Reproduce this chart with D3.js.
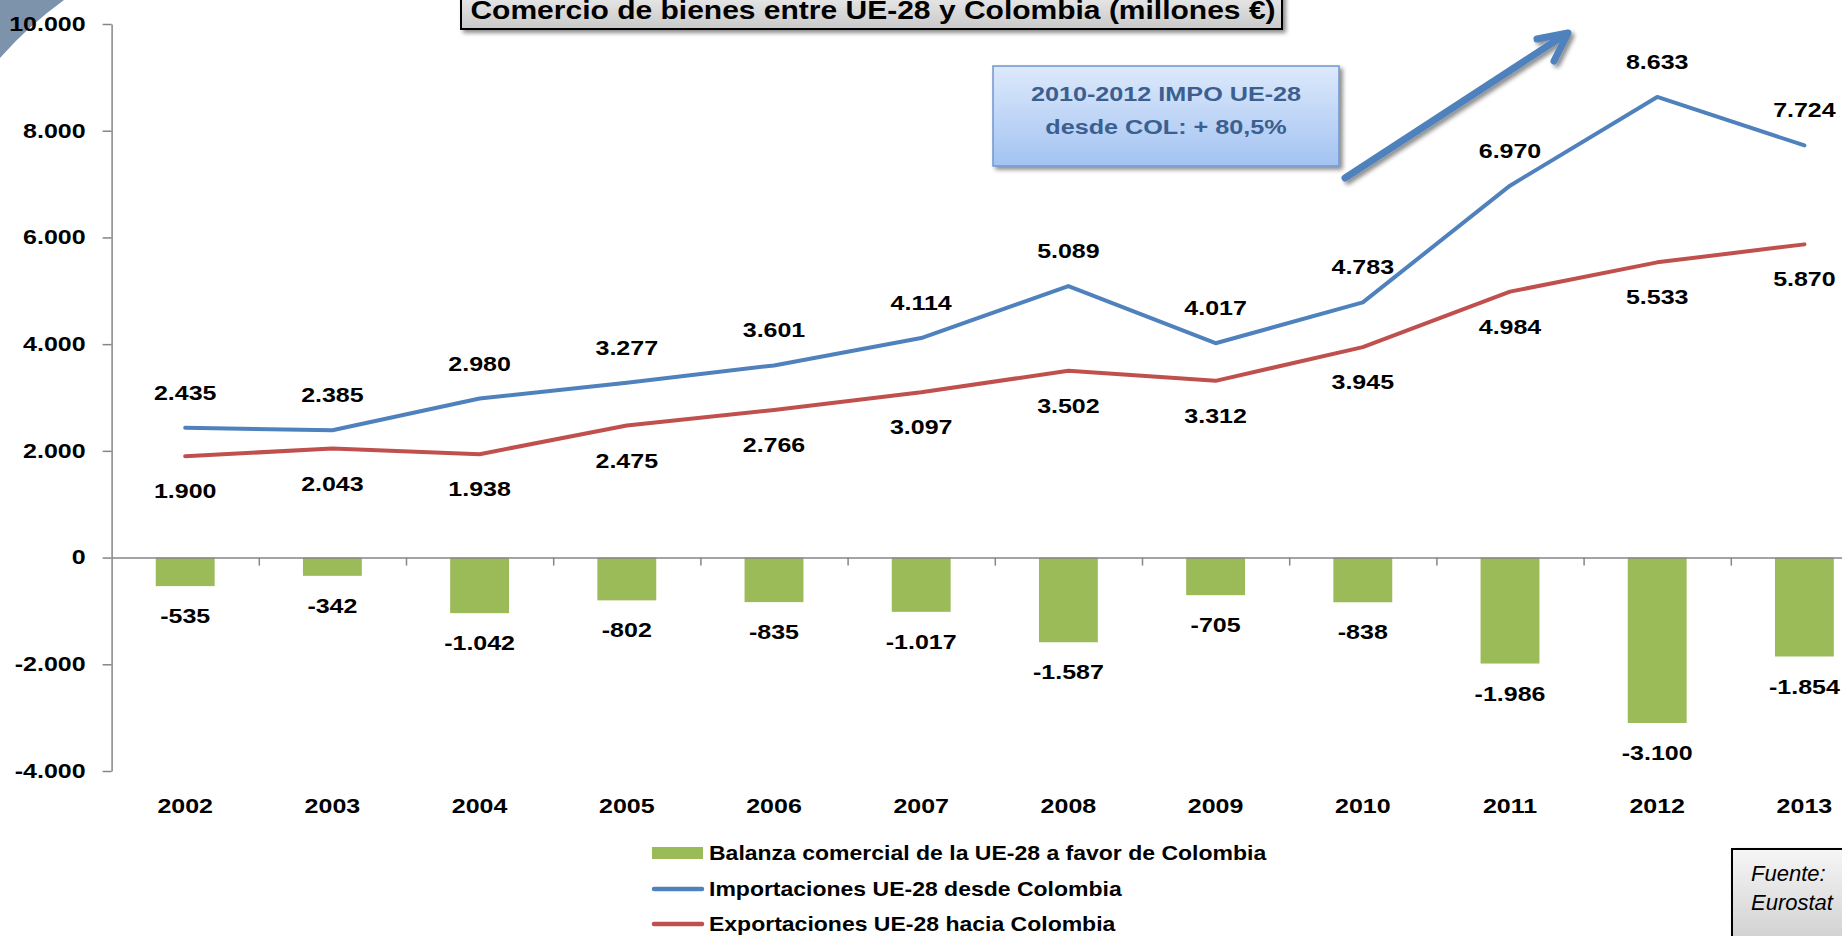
<!DOCTYPE html>
<html>
  <head>
    <meta charset="utf-8"/>
    <style>
body {
  margin: 0;
  background: #fff;
}
svg {
  display: block;
  font-family: "Liberation Sans", Arial, sans-serif;
}
.axis path, .axis line {
  stroke: #868686;
  stroke-width: 1.5;
}
.lbl {
  font-size: 20px;
  font-weight: bold;
  fill: #000;
}
    </style>
  </head>
  <body>
    <svg id="chart" width="1842" height="936"></svg>
    <script src="https://cdnjs.cloudflare.com/ajax/libs/d3/7.8.5/d3.min.js"></script>
    <script>
const years = ["2002","2003","2004","2005","2006","2007","2008","2009","2010","2011","2012","2013"];
const imports = [2435, 2385, 2980, 3277, 3601, 4114, 5089, 4017, 4783, 6970, 8633, 7724];
const exports = [1900, 2043, 1938, 2475, 2766, 3097, 3502, 3312, 3945, 4984, 5533, 5870];
const balance = [-535, -342, -1042, -802, -835, -1017, -1587, -705, -838, -1986, -3100, -1854];
const yTicks = [-4000, -2000, 0, 2000, 4000, 6000, 8000, 10000];
const legendNames = [
  "Balanza comercial de la UE-28 a favor de Colombia",
  "Importaciones UE-28 desde Colombia",
  "Exportaciones UE-28 hacia Colombia"
];

const green = "#9bbb59", blue = "#4f81bd", red = "#c0504d";
const SX = 1.25; // the original picture is stretched sideways

const es = d3.formatLocale({ decimal: ",", thousands: ".", grouping: [3], currency: ["", "€"], minus: "-" });
const fmt = es.format(",d");

const svg = d3.select("#chart");
const plotLeft = 111.6, plotRight = 1878, plotTop = 24, plotBottom = 771;

const x = d3.scaleBand()
    .domain(years)
    .range([plotLeft, plotRight])
    .paddingInner(0.6)
    .paddingOuter(0.3);
const xc = (i) => x(years[i]) + x.bandwidth() / 2;
const xi = d3.scaleLinear().domain([0, years.length]).range([plotLeft, plotRight]);
const y = d3.scaleLinear().domain([-4000, 10000]).range([plotBottom, plotTop]);

const defs = svg.append("defs");
const shadow = defs.append("filter").attr("id", "shadow")
    .attr("x", "-10%").attr("y", "-10%").attr("width", "130%").attr("height", "150%");
shadow.append("feDropShadow")
    .attr("dx", 3).attr("dy", 3).attr("stdDeviation", 2)
    .attr("flood-color", "#000").attr("flood-opacity", 0.45);

function grad(id, c1, c2) {
  let g = defs.append("linearGradient").attr("id", id)
      .attr("x1", 0).attr("y1", 0).attr("x2", 0).attr("y2", 1);
  g.append("stop").attr("offset", "0%").attr("stop-color", c1);
  g.append("stop").attr("offset", "100%").attr("stop-color", c2);
}
grad("grayfill", "#f6f6f6", "#c9c9c9");
grad("bluefill", "#dde9fb", "#a3c3f2");

// corner decoration from the slide
svg.append("path")
    .attr("d", "M0,0 L64,0 Q28,26 0,58 Z")
    .attr("fill", "#7d92ab");

// y axis
const yAxis = svg.append("g")
    .attr("class", "axis")
    .attr("transform", `translate(${plotLeft},0)`)
    .call(d3.axisLeft(y).tickValues(yTicks).tickSize(9).tickSizeOuter(0).tickFormat(fmt));
yAxis.selectAll("text")
    .attr("class", "lbl")
    .attr("x", null)
    .attr("transform", `translate(-26,0) scale(${SX},1)`);

// bars
svg.append("g")
  .selectAll("rect")
  .data(balance)
  .join("rect")
    .attr("x", (d, i) => x(years[i]))
    .attr("width", x.bandwidth())
    .attr("y", y(0))
    .attr("height", d => y(d) - y(0))
    .attr("fill", green);

// zero line with category ticks
svg.append("g")
    .attr("class", "axis")
    .attr("transform", `translate(0,${y(0)})`)
    .call(d3.axisBottom(xi).tickValues(d3.range(1, years.length + 1)).tickSize(8).tickSizeOuter(0).tickFormat(""));

// category labels at the bottom
const xAxis = svg.append("g")
    .attr("class", "axis")
    .attr("transform", `translate(0,${plotBottom})`)
    .call(d3.axisBottom(x).tickSize(0).tickPadding(28));
xAxis.select(".domain").remove();
xAxis.selectAll("text")
    .attr("class", "lbl")
    .attr("transform", `scale(${SX},1)`);

// lines
const line = d3.line().x((d, i) => xc(i)).y(d => y(d));
[[imports, blue], [exports, red]].forEach(([vals, col]) => {
  svg.append("path")
      .datum(vals)
      .attr("d", line)
      .attr("fill", "none")
      .attr("stroke", col)
      .attr("stroke-width", 4)
      .attr("stroke-linejoin", "round")
      .attr("stroke-linecap", "round");
});

// data labels
function dataLabels(vals, off) {
  svg.append("g")
    .selectAll("text")
    .data(vals)
    .join("text")
      .attr("class", "lbl")
      .attr("text-anchor", "middle")
      .attr("dy", "0.35em")
      .attr("transform", (d, i) => `translate(${xc(i)},${y(d) + off}) scale(${SX},1)`)
      .text(d => fmt(d));
}
dataLabels(imports, -35);
dataLabels(exports, 35);
dataLabels(balance, 30);

// title box
svg.append("rect")
    .attr("x", 461).attr("y", -20).attr("width", 821).attr("height", 49)
    .attr("fill", "url(#grayfill)")
    .attr("stroke", "#000").attr("stroke-width", 2)
    .attr("filter", "url(#shadow)");
svg.append("text")
    .attr("transform", `translate(873,19) scale(1.2,1)`)
    .attr("text-anchor", "middle")
    .style("font-size", "25px")
    .style("font-weight", "bold")
    .text("Comercio de bienes entre UE-28 y Colombia (millones €)");

// annotation box
svg.append("rect")
    .attr("x", 993).attr("y", 66).attr("width", 346).attr("height", 100)
    .attr("fill", "url(#bluefill)")
    .attr("stroke", "#6f97cf").attr("stroke-width", 1.5)
    .attr("filter", "url(#shadow)");
["2010-2012 IMPO UE-28", "desde COL: + 80,5%"].forEach((t, i) => {
  svg.append("text")
      .attr("transform", `translate(1166,${94 + i * 33}) scale(1.2,1)`)
      .attr("text-anchor", "middle")
      .attr("dy", "0.35em")
      .style("font-size", "21px")
      .style("font-weight", "bold")
      .style("fill", "#3b5f8f")
      .text(t);
});

// arrow
const arrow = svg.append("g")
    .attr("fill", "none")
    .attr("stroke", blue)
    .attr("stroke-width", 7)
    .attr("stroke-linecap", "round")
    .attr("stroke-linejoin", "round")
    .attr("filter", "url(#shadow)");
arrow.append("path").attr("d", "M1345,178 L1566,34");
arrow.append("path").attr("d", "M1537,39 L1568,33 L1554,61");

// legend
const legendY = [853, 889, 924];
const lg = svg.append("g");
lg.append("rect")
    .attr("x", 652).attr("y", legendY[0] - 6).attr("width", 51).attr("height", 12)
    .attr("fill", green);
[blue, red].forEach((col, i) => {
  lg.append("line")
      .attr("x1", 654).attr("x2", 702)
      .attr("y1", legendY[i + 1]).attr("y2", legendY[i + 1])
      .attr("stroke", col).attr("stroke-width", 4.5)
      .attr("stroke-linecap", "round");
});
lg.selectAll("text")
  .data(legendNames)
  .join("text")
    .attr("transform", (d, i) => `translate(709,${legendY[i]}) scale(1.18,1)`)
    .attr("dy", "0.35em")
    .style("font-size", "19.5px")
    .style("font-weight", "bold")
    .text(d => d);

// source box
svg.append("rect")
    .attr("x", 1732).attr("y", 849).attr("width", 130).attr("height", 110)
    .attr("fill", "url(#grayfill)")
    .attr("stroke", "#000").attr("stroke-width", 2)
    .attr("filter", "url(#shadow)");
["Fuente:", "Eurostat"].forEach((t, i) => {
  svg.append("text")
      .attr("x", 1751).attr("y", 881 + i * 29)
      .style("font-size", "22px")
      .style("font-style", "italic")
      .text(t);
});
    </script>
  </body>
</html>
